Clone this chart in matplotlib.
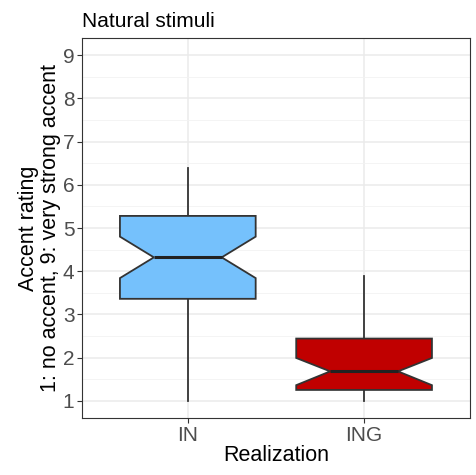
import matplotlib
matplotlib.use("Agg")
import matplotlib.pyplot as plt
from matplotlib.ticker import MultipleLocator

plt.rcParams['font.family'] = ['Liberation Sans', 'DejaVu Sans']

categories = ["IN", "ING"]
medians = [4.32, 1.68]
q1s = [3.36, 1.25]
q3s = [5.28, 2.44]
whis_lo = [1.0, 1.0]
whis_hi = [6.39, 3.89]
ci_lo = [3.84, 1.36]
ci_hi = [4.80, 1.99]
colors = ["#75C1FC", "#C00000"]

fig = plt.figure(figsize=(4.77, 4.75), dpi=100)
ax = fig.add_axes([0.172, 0.12, 0.813, 0.80])

stats = []
for i, c in enumerate(categories):
    stats.append(dict(label=c, med=medians[i], q1=q1s[i], q3=q3s[i],
                      whislo=whis_lo[i], whishi=whis_hi[i],
                      cilo=ci_lo[i], cihi=ci_hi[i], fliers=[]))

bp = ax.bxp(stats, positions=[1, 2], widths=0.77, shownotches=True,
            patch_artist=True, showcaps=False, showfliers=False,
            boxprops=dict(edgecolor="#333333", linewidth=1.3),
            medianprops=dict(color="#222222", linewidth=2.2),
            whiskerprops=dict(color="#333333", linewidth=1.3))
for p, col in zip(bp['boxes'], colors):
    p.set_facecolor(col)
    p.set_zorder(3)
for m in bp['medians']:
    m.set_zorder(4)

ax.set_xlim(0.4, 2.6)
ax.set_ylim(0.6, 9.4)
ax.yaxis.set_major_locator(MultipleLocator(1))
ax.yaxis.set_minor_locator(MultipleLocator(0.5))
ax.set_xticks([1, 2])
ax.set_xticklabels(categories)
ax.grid(True, which='major', color="#EBEBEB", linewidth=1.1, zorder=0)
ax.grid(True, which='minor', axis='y', color="#F2F2F2", linewidth=0.6, zorder=0)
ax.set_axisbelow(True)
ax.tick_params(axis='both', which='major', labelsize=15, labelcolor="#4D4D4D",
               color="#333333", length=3.5, width=0.8, pad=2)
ax.tick_params(axis='y', which='minor', length=0)
for s in ax.spines.values():
    s.set_color("#333333")
    s.set_linewidth(0.8)

ax.set_xlabel("Realization", fontsize=15.5, color="black", labelpad=0)
ax.set_ylabel("Accent rating\n1: no accent, 9: very strong accent", fontsize=15.5,
              color="black", labelpad=1, linespacing=1.1)
ax.set_title("Natural stimuli", loc='left', fontsize=15, pad=8)

fig.savefig("out.png", dpi=100)
